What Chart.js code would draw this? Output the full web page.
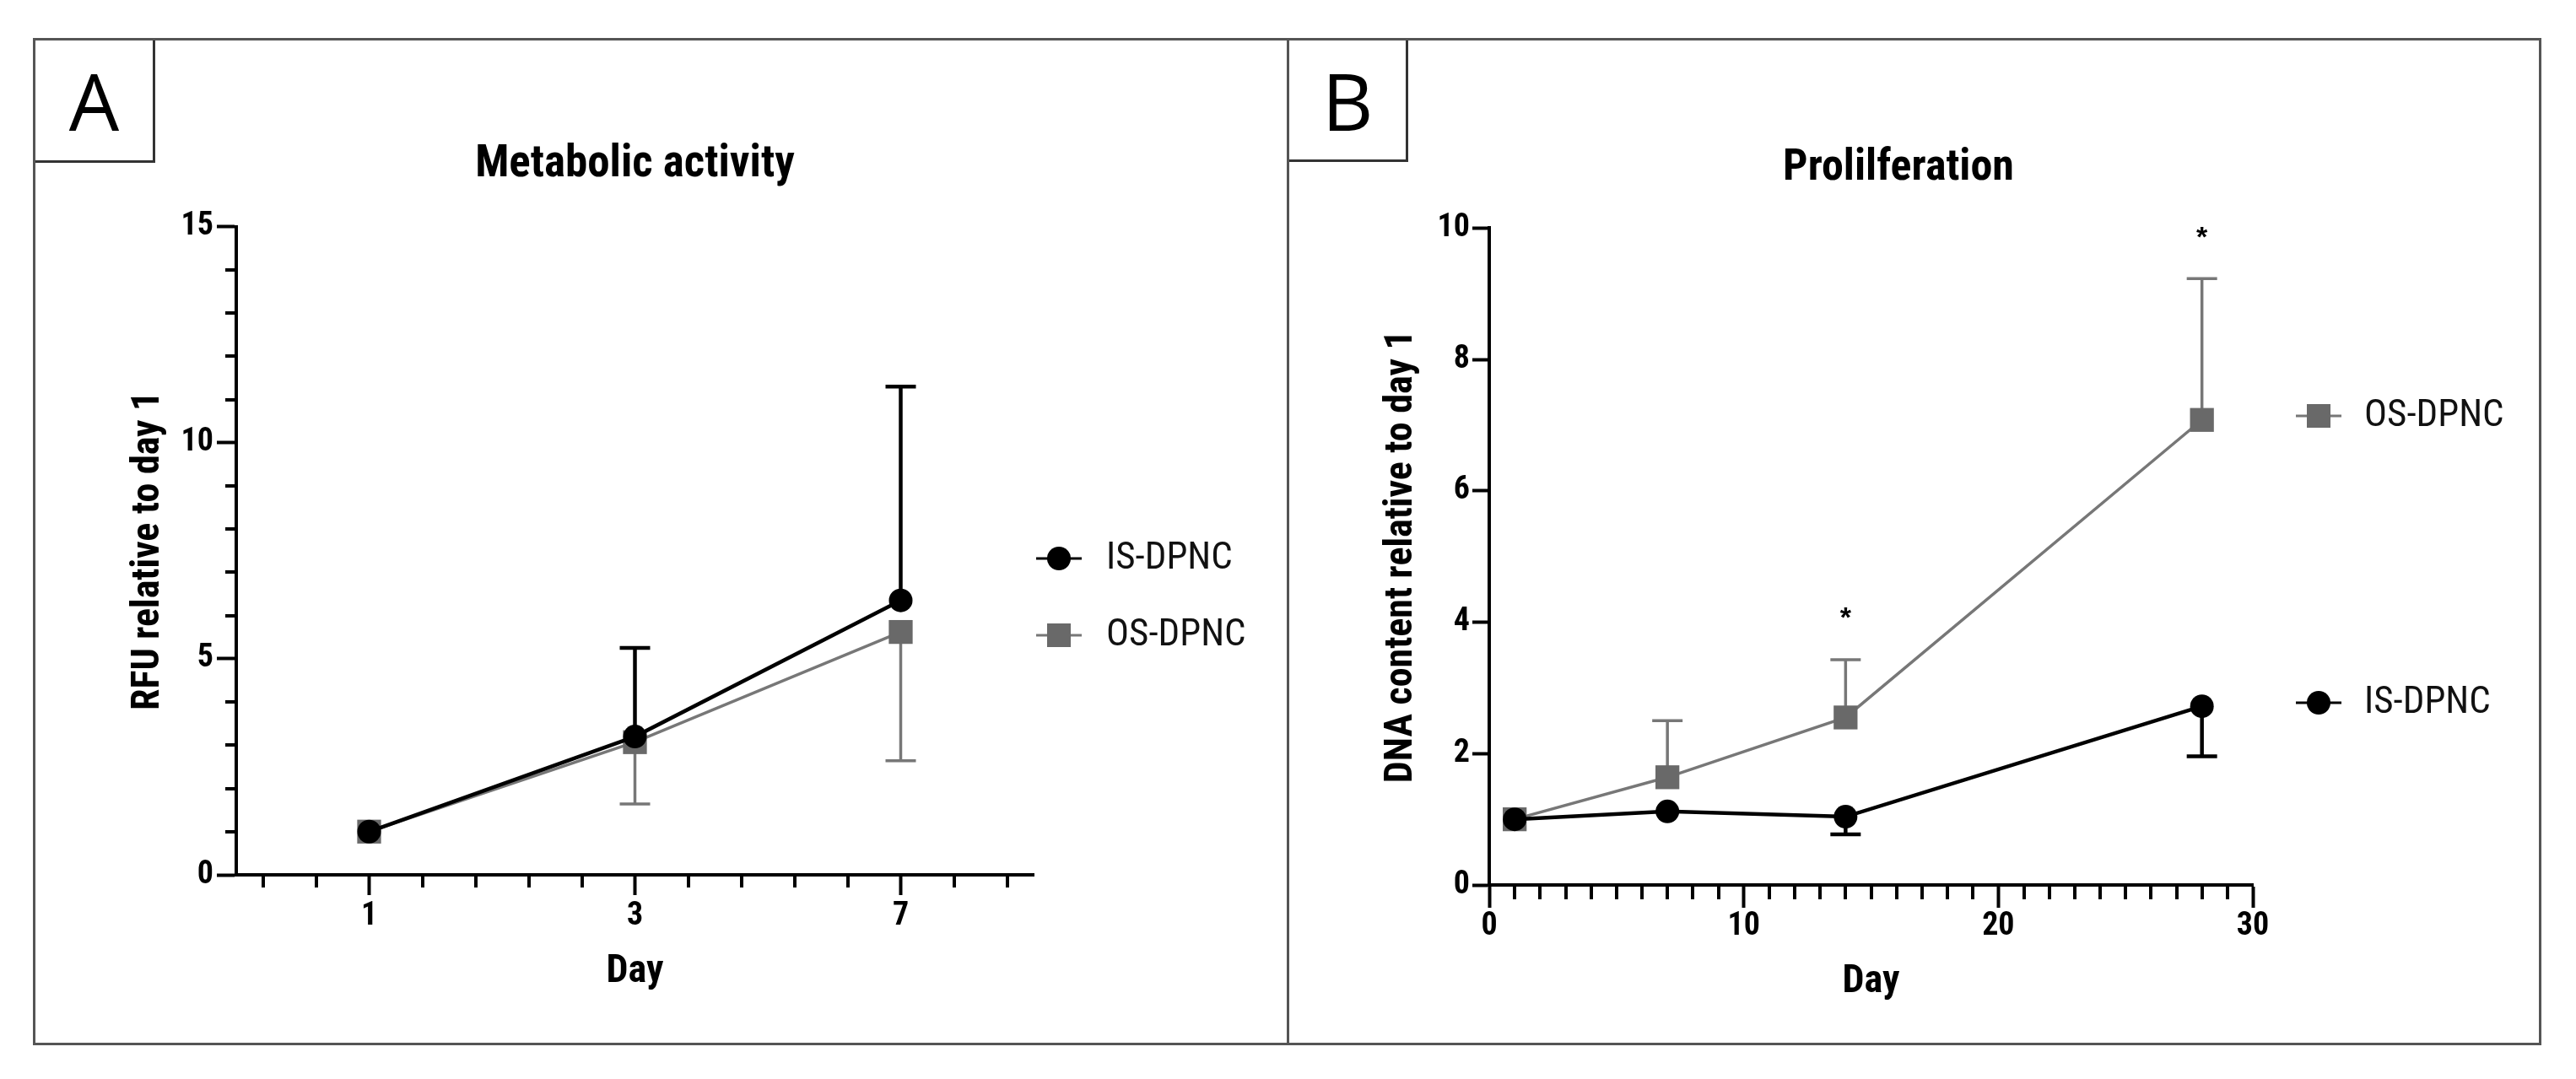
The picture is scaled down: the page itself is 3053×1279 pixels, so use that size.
<!DOCTYPE html>
<html>
<head>
<meta charset="utf-8">
<script src="https://cdn.jsdelivr.net/npm/chart.js@4.4.1/dist/chart.umd.min.js"></script>
<style>
  body { margin: 0; background: #fff; width: 3053px; height: 1279px; position: relative; overflow: hidden; }
  .panel { position: absolute; box-sizing: border-box; border: 3px solid #555; }
  .tag { position: absolute; left: 0; top: 0; box-sizing: border-box;
         border-right: 3px solid #333; border-bottom: 3px solid #333;
         display: flex; align-items: center; justify-content: center;
         font-family: "Open Sans", Lato, sans-serif; font-weight: 400; font-size: 94px; color: #000; }
  .chartBox { position: absolute; }
</style>
</head>
<body>
<div class="panel" style="left:39px; top:45px; width:1489px; height:1194px;">
  <div class="tag" style="width:142px; height:145px;">A</div>
</div>
<div class="panel" style="left:1525px; top:45px; width:1487px; height:1194px;">
  <div class="tag" style="width:141px; height:144px;">B</div>
</div>
<div class="chartBox" style="left:40px; top:46px; width:1485px; height:1192px;"><canvas id="metabChart"></canvas></div>
<div class="chartBox" style="left:1525px; top:46px; width:1486px; height:1192px;"><canvas id="prolifChart"></canvas></div>

<script>
// Panel A - metabolic activity
const axisSlotsA = ["", "", "1", "", "", "", "", "3", "", "", "", "", "7", "", ""];
const daysA = ["1", "3", "7"];
const isMetab = [1.0, 3.2, 6.35];
const isMetabSd = [0, 2.05, 4.95];
const osMetab = [1.0, 3.07, 5.62];
const osMetabSd = [0, 1.43, 2.98];

// Panel B - proliferation
const daysB = [1, 7, 14, 28];
const osProlif = [1.0, 1.64, 2.55, 7.08];
const osProlifSd = [0, 0.86, 0.88, 2.15];
const isProlif = [1.0, 1.12, 1.04, 2.72];
const isProlifSd = [0, 0, 0.27, 0.76];
const sigDays = [14, 28];
const sigHeights = [4.15, 9.95];

const FONT = "'Roboto Condensed', 'Liberation Sans', Arial, sans-serif";
const BLACK = "#000";
const GREY = "#777";
const GREY_FILL = "#696969";

Chart.defaults.color = "#000";
Chart.defaults.font.family = FONT;

// vertical error bars, drawn under the markers
const errorBars = {
  id: "errorBars",
  beforeDatasetsDraw(chart) {
    const ctx = chart.ctx;
    chart.data.datasets.forEach((ds, i) => {
      if (!ds.sd) return;
      const meta = chart.getDatasetMeta(i);
      const yScale = chart.scales[meta.yAxisID];
      ctx.save();
      ctx.strokeStyle = ds.borderColor;
      ctx.lineWidth = ds.borderWidth;
      meta.data.forEach((pt, j) => {
        const sd = ds.sd[j];
        if (!sd) return;
        const end = yScale.getPixelForValue(ds.data[j].y + ds.errDir * sd);
        ctx.beginPath();
        ctx.moveTo(pt.x, pt.y);
        ctx.lineTo(pt.x, end);
        ctx.moveTo(pt.x - 18, end);
        ctx.lineTo(pt.x + 18, end);
        ctx.stroke();
      });
      ctx.restore();
    });
  }
};

// short minor ticks next to the major ones
const minorTicks = {
  id: "minorTicks",
  afterDraw(chart, args, opts) {
    const { ctx, chartArea, scales } = chart;
    ctx.save();
    ctx.strokeStyle = BLACK;
    ctx.lineWidth = 4;
    (opts.x || []).forEach(v => {
      const px = Math.round(scales.x.getPixelForValue(v));
      ctx.beginPath();
      ctx.moveTo(px, chartArea.bottom);
      ctx.lineTo(px, chartArea.bottom + opts.xLen);
      ctx.stroke();
    });
    (opts.y || []).forEach(v => {
      const py = Math.round(scales.y.getPixelForValue(v));
      ctx.beginPath();
      ctx.moveTo(chartArea.left, py);
      ctx.lineTo(chartArea.left - opts.yLen, py);
      ctx.stroke();
    });
    ctx.restore();
  }
};

// Prism-style legend: line with marker, label on the right
const sideLegend = {
  id: "sideLegend",
  afterDraw(chart, args, opts) {
    const ctx = chart.ctx;
    opts.items.forEach(item => {
      const ds = chart.data.datasets[item.dataset];
      const x = opts.x, y = item.y;
      ctx.save();
      ctx.strokeStyle = ds.borderColor;
      ctx.lineWidth = 3;
      ctx.beginPath();
      ctx.moveTo(x - 27, y);
      ctx.lineTo(x + 27, y);
      ctx.stroke();
      ctx.fillStyle = ds.pointBackgroundColor;
      if (ds.pointStyle === "rect") {
        ctx.fillRect(x - 14, y - 14, 28, 28);
      } else {
        ctx.beginPath();
        ctx.arc(x, y, 14, 0, Math.PI * 2);
        ctx.fill();
      }
      ctx.fillStyle = "#111";
      ctx.font = "45px " + FONT;
      ctx.textBaseline = "middle";
      ctx.fillText(ds.label, opts.textX, y + 1);
      ctx.restore();
    });
  }
};

// significance stars
const stars = {
  id: "stars",
  afterDatasetsDraw(chart, args, opts) {
    if (!opts.x) return;
    const { ctx, scales } = chart;
    ctx.save();
    ctx.fillStyle = BLACK;
    ctx.font = "bold 34px 'Liberation Sans', Arial, sans-serif";
    ctx.textAlign = "center";
    ctx.textBaseline = "middle";
    opts.x.forEach((d, i) => {
      ctx.fillText("*", scales.x.getPixelForValue(d), scales.y.getPixelForValue(opts.y[i]) + 8);
    });
    ctx.restore();
  }
};

function series(label, xs, ys, sd, dir, grey) {
  return {
    label: label,
    data: xs.map((d, i) => ({ x: d, y: ys[i] })),
    sd: sd,
    errDir: dir,
    borderColor: grey ? GREY : BLACK,
    backgroundColor: grey ? GREY_FILL : BLACK,
    pointBackgroundColor: grey ? GREY_FILL : BLACK,
    borderWidth: grey ? 3.5 : 4.5,
    pointBorderWidth: 0,
    pointStyle: grey ? "rect" : "circle",
    pointRadius: grey ? 20 : 14,
    tension: 0,
    clip: false
  };
}

function yAxis(max, step, title, tickLen, pad) {
  return {
    type: "linear",
    min: 0,
    max: max,
    ticks: { stepSize: step, padding: pad, font: { size: 38, weight: "bold" } },
    grid: { drawOnChartArea: false, drawTicks: true, tickLength: tickLen, tickWidth: 4, tickColor: BLACK },
    border: { display: true, width: 4, color: BLACK },
    title: { display: true, text: title, font: { size: 46, weight: "bold" }, padding: { top: 109, bottom: 0 } },
    afterFit: s => { s.width = 240; }
  };
}

// empty right-hand axis that keeps room for the legend
function spacer(w) {
  return {
    position: "right",
    display: true,
    grid: { display: false },
    border: { display: false },
    ticks: { display: false },
    afterFit: s => { s.width = w; }
  };
}

const xTitle = { display: true, text: "Day", font: { size: 46, weight: "bold" }, padding: { top: 0, bottom: 7 } };

const yMinorA = [];
for (let v = 0; v <= 15; v++) if (v % 5) yMinorA.push(v);
const xMinorA = axisSlotsA.map((l, i) => (l ? null : i)).filter(i => i !== null);
const xMinorB = [];
for (let v = 1; v < 30; v++) if (v % 10) xMinorB.push(v);

new Chart(document.getElementById("metabChart"), {
  type: "line",
  data: {
    labels: axisSlotsA,
    datasets: [
      series("IS-DPNC", daysA, isMetab, isMetabSd, 1, false),
      series("OS-DPNC", daysA, osMetab, osMetabSd, -1, true)
    ]
  },
  options: {
    responsive: true,
    maintainAspectRatio: false,
    animation: false,
    layout: { padding: { top: 0, left: 0, right: 300, bottom: 51 } },
    scales: {
      x: {
        type: "category",
        offset: true,
        ticks: { autoSkip: false, maxRotation: 0, padding: 3, font: { size: 38, weight: "bold" } },
        grid: {
          drawOnChartArea: false, drawTicks: true, tickLength: 24, tickWidth: 4,
          tickColor: c => (axisSlotsA[c.index] ? BLACK : "rgba(0,0,0,0)")
        },
        border: { display: true, width: 4, color: BLACK },
        title: xTitle,
        afterFit: s => { s.height = 150; }
      },
      y: yAxis(15, 5, "RFU relative to day 1", 23, 4)
    },
    plugins: {
      legend: { display: false },
      tooltip: { enabled: false },
      title: {
        display: true, text: "Metabolic activity", fullSize: false,
        font: { size: 53, weight: "bold" }, color: BLACK,
        padding: { top: 118, bottom: 41 }
      },
      minorTicks: { x: xMinorA, xLen: 15, y: yMinorA, yLen: 13 },
      sideLegend: { x: 1215, textX: 1271, items: [{ dataset: 0, y: 616 }, { dataset: 1, y: 707 }] },
      stars: {}
    }
  },
  plugins: [errorBars, minorTicks, sideLegend, stars]
});

new Chart(document.getElementById("prolifChart"), {
  type: "line",
  data: {
    datasets: [
      series("IS-DPNC", daysB, isProlif, isProlifSd, -1, false),
      series("OS-DPNC", daysB, osProlif, osProlifSd, 1, true)
    ]
  },
  options: {
    responsive: true,
    maintainAspectRatio: false,
    animation: false,
    layout: { padding: { top: 0, left: 0, right: 36, bottom: 39 } },
    scales: {
      x: {
        type: "linear",
        min: 0,
        max: 30,
        ticks: { stepSize: 10, maxRotation: 0, padding: 0, font: { size: 38, weight: "bold" } },
        grid: { drawOnChartArea: false, drawTicks: true, tickLength: 27, tickWidth: 4, tickColor: BLACK },
        border: { display: true, width: 4, color: BLACK },
        title: xTitle,
        afterFit: s => { s.height = 150; }
      },
      y: yAxis(10, 2, "DNA content relative to day 1", 20, 3),
      pad: spacer(305)
    },
    plugins: {
      legend: { display: false },
      tooltip: { enabled: false },
      title: {
        display: true, text: "Prolilferation",
        font: { size: 52, weight: "bold" }, color: BLACK,
        padding: { top: 123, bottom: 39 }
      },
      minorTicks: { x: xMinorB, xLen: 17 },
      sideLegend: { x: 1223, textX: 1277, items: [{ dataset: 1, y: 447 }, { dataset: 0, y: 787 }] },
      stars: { x: sigDays, y: sigHeights }
    }
  },
  plugins: [errorBars, minorTicks, sideLegend, stars]
});
</script>
</body>
</html>
